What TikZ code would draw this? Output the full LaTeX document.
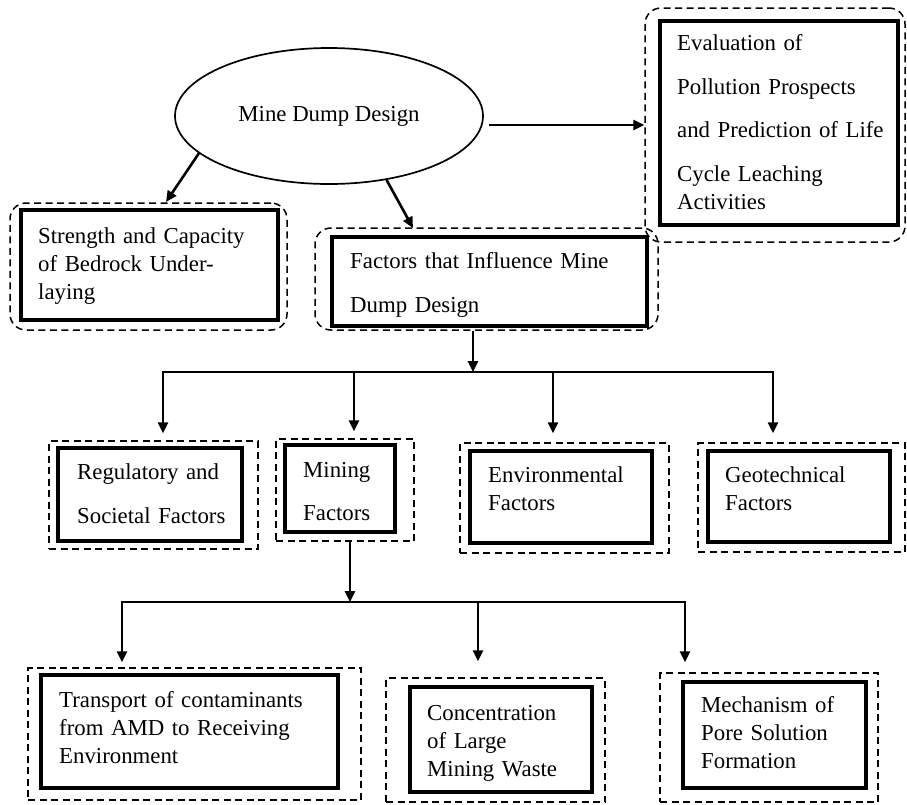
\documentclass[tikz,border=0pt]{standalone}
\usepackage{fontspec}
\setmainfont{Liberation Serif}
\usetikzlibrary{arrows.meta,shapes.geometric}
\begin{document}
\begin{tikzpicture}[x=1pt,y=-1pt,
  obox/.style 2 args={draw, line width=1.5pt, dash pattern=on 7pt off 4.5pt, inner sep=0pt, minimum width=#1, minimum height=#2},
  robox/.style 2 args={obox={#1}{#2}, rounded corners=16pt},
  ibox/.style 2 args={draw, line width=4.8pt, inner sep=0pt, minimum width=#1, minimum height=#2},
  txt/.style={font=\fontsize{22.8}{28}\selectfont, inner sep=0pt, anchor=base west, text width=280pt, align=left},
  arr/.style={line width=2.6pt, -{Triangle[length=11pt,width=10pt]}},
  bus/.style={line width=2.2pt, line cap=rect}]
\fill[white] (0,0) rectangle (907,804);
\useasboundingbox (0,0) rectangle (907,804);

% ellipse
\node[draw, ellipse, line width=1.7pt, minimum width=308pt, minimum height=136pt, inner sep=0pt,
      font=\fontsize{22.8}{28}\selectfont] (ell) at (329,116) {Mine Dump Design};

% Evaluation
\node[robox={260pt}{234pt}] (evO) at (775,125) {};
\node[ibox={238pt}{204pt}] (evI) at (779,123) {};
\node[txt] (evT) at (677,50) {Evaluation of\\[16pt]Pollution Prospects\\[15pt]and Prediction of Life\\[16pt]Cycle Leaching\\Activities};

% Strength
\node[robox={277pt}{127pt}] (stO) at (148.5,266.5) {};
\node[ibox={257pt}{110pt}] (stI) at (149.5,265) {};
\node[txt] (stT) at (38,243) {Strength and Capacity\\of Bedrock Under-\\laying};

% Factors
\node[robox={343pt}{102pt}] (faO) at (486.5,279) {};
\node[ibox={315pt}{89pt}] (faI) at (489.5,281.5) {};
\node[txt] (faT) at (350,268) {Factors that Influence Mine\\[16pt]Dump Design};

% Row 2
\node[obox={209pt}{108pt}] (reO) at (153.5,495) {};
\node[ibox={184pt}{93pt}] (reI) at (150,494.5) {};
\node[txt] (reT) at (77,479) {Regulatory and\\[16pt]Societal Factors};

\node[obox={138pt}{102pt}] (miO) at (345,490) {};
\node[ibox={110pt}{87pt}] (miI) at (340,488.5) {};
\node[txt] (miT) at (303,477) {Mining\\[15pt]Factors};

\node[obox={209pt}{110pt}] (enO) at (564.5,498) {};
\node[ibox={182pt}{92pt}] (enI) at (561,497) {};
\node[txt] (enT) at (488,482) {Environmental\\Factors};

\node[obox={207pt}{109pt}] (geO) at (801.5,497.5) {};
\node[ibox={182pt}{91pt}] (geI) at (799,496.5) {};
\node[txt] (geT) at (725,482) {Geotechnical\\Factors};

% Row 3
\node[obox={333pt}{132pt}] (trO) at (194.5,734) {};
\node[ibox={297pt}{113pt}] (trI) at (189.5,731.5) {};
\node[txt] (trT) at (59,707) {Transport of contaminants\\from AMD to Receiving\\Environment};

\node[obox={219pt}{124pt}] (coO) at (495.5,740) {};
\node[ibox={182pt}{105pt}] (coI) at (501,739.5) {};
\node[txt] (coT) at (427,720) {Concentration\\of Large\\Mining Waste};

\node[obox={218pt}{129pt}] (meO) at (769,737.5) {};
\node[ibox={183pt}{106pt}] (meI) at (774.5,735) {};
\node[txt] (meT) at (701,712) {Mechanism of\\Pore Solution\\Formation};

% connectors from ellipse
\coordinate (tSt) at (166,202);
\coordinate (tFa) at (413,228);
\coordinate (sEv) at (489,125);
\draw[arr] (ell.196) -- (tSt);
\draw[arr] (ell.-48) -- (tFa);
\draw[arr] (sEv) -- (evO.west);

% first bus
\coordinate (b1) at (473,372);
\coordinate (bL) at (163,372);
\coordinate (bM) at (354,372);
\coordinate (bE) at (553,372);
\coordinate (bR) at (773,372);
\draw[bus] (bL) -- (bR);
\draw[arr] (b1 |- faO.south) -- (b1);
\draw[arr, shorten >=7pt] (bL) -- (bL |- reO.north);
\draw[arr, shorten >=7pt] (bM) -- (bM |- miO.north);
\draw[arr, shorten >=9pt] (bE) -- (bE |- enO.north);
\draw[arr, shorten >=9pt] (bR) -- (bR |- geO.north);

% second bus
\coordinate (c1) at (350,602);
\coordinate (cL) at (122,602);
\coordinate (cM) at (478,602);
\coordinate (cR) at (685,602);
\draw[bus] (cL) -- (cR);
\draw[arr] (c1 |- miO.south) -- (c1);
\draw[arr, shorten >=5pt] (cL) -- (cL |- trO.north);
\draw[arr, shorten >=16pt] (cM) -- (cM |- coO.north);
\draw[arr, shorten >=10pt] (cR) -- (cR |- meO.north);
\end{tikzpicture}
\end{document}
